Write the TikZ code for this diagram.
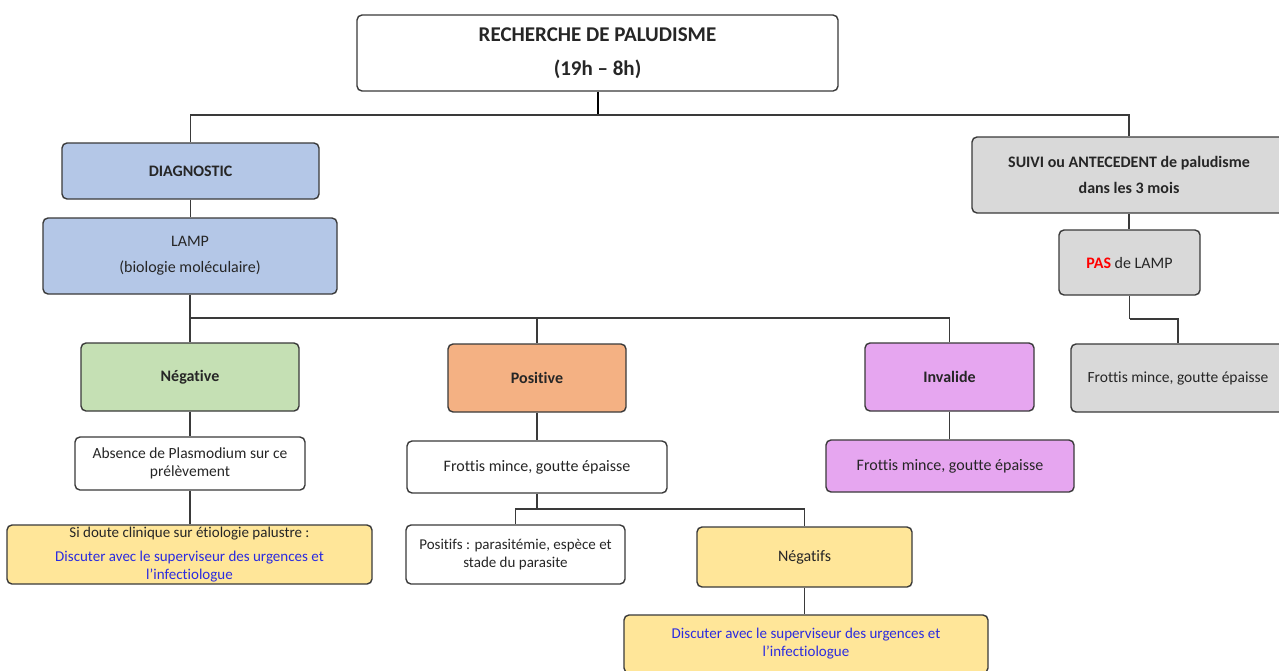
\documentclass[tikz,border=0pt]{standalone}
\usepackage{fontspec}
\setmainfont{Carlito}[Ligatures=NoCommon]
\definecolor{linec}{HTML}{3A3A3A}
\definecolor{txtc}{HTML}{262626}
\definecolor{fblue}{HTML}{B4C7E7}
\definecolor{fgreen}{HTML}{C5E0B4}
\definecolor{forange}{HTML}{F4B183}
\definecolor{fviolet}{HTML}{E6A6F0}
\definecolor{fyellow}{HTML}{FFE699}
\definecolor{fgray}{HTML}{D9D9D9}
\definecolor{bluetxt}{HTML}{2B2BE0}
\definecolor{redtxt}{HTML}{FF0000}
\begin{document}
\begin{tikzpicture}[x=1pt,y=-1pt,
  box/.style={draw=linec, line width=1.4pt, rounded corners=5pt, inner sep=0pt,
    align=center, text=txtc, font=\fontsize{16}{18}\selectfont},
  conn/.style={draw=linec, line width=1.5pt},
  wh/.style 2 args={minimum width=#1pt, minimum height=#2pt}]
\clip (0,0) rectangle (1279,670);
\fill[white] (0,0) rectangle (1279,670);

% nodes
\node[box, fill=white, wh={481}{76}, font=\fontsize{21}{34}\selectfont\bfseries] (top) at (597.5,53) {RECHERCHE DE PALUDISME\\(19h -- 8h)};
\node[box, fill=fblue, wh={257}{56}, font=\fontsize{16}{18}\selectfont\bfseries] (diag) at (190.5,171) {DIAGNOSTIC};
\node[box, fill=fblue, wh={294}{76}, font=\fontsize{16}{26}\selectfont] (lamp) at (190,256) {LAMP\\(biologie moléculaire)};
\node[box, fill=fgreen, wh={218}{68}, font=\fontsize{16}{18}\selectfont\bfseries] (neg) at (190,377) {Négative};
\node[box, fill=forange, wh={178}{68}, font=\fontsize{16}{18}\selectfont\bfseries] (pos) at (537,378) {Positive};
\node[box, fill=fviolet, wh={169}{68}, font=\fontsize{16}{18}\selectfont\bfseries] (inv) at (949.5,377) {Invalide};
\node[box, fill=white, wh={230}{53}, font=\fontsize{15.5}{18}\selectfont] (abs) at (190,463.5) {Absence de Plasmodium sur ce\\prélèvement};
\node[box, fill=fyellow, wh={365}{59}, font=\fontsize{15}{18}\selectfont] (sid) at (189.5,554.5) {Si doute clinique sur étiologie palustre :\\[6pt]\textcolor{bluetxt}{Discuter avec le superviseur des urgences et}\\\textcolor{bluetxt}{l’infectiologue}};
\node[box, fill=white, wh={260}{52}] (frP) at (537,467) {Frottis mince, goutte épaisse};
\node[box, fill=white, wh={219}{59}, font=\fontsize{15}{17.5}\selectfont] (posf) at (515.5,554.5) {Positifs : parasitémie, espèce et\\stade du parasite};
\node[box, fill=fyellow, wh={215}{60}] (negf) at (804.5,557) {Négatifs};
\node[box, fill=fyellow, wh={364}{58}, font=\fontsize{15}{18}\selectfont, text=bluetxt] (disc) at (806,644) {Discuter avec le superviseur des urgences et\\l’infectiologue};
\node[box, fill=fviolet, wh={248}{52}] (frI) at (950,466) {Frottis mince, goutte épaisse};
\node[box, fill=fgray, wh={314}{76}, font=\fontsize{16}{26}\selectfont\bfseries] (suivi) at (1129,175) {SUIVI ou ANTECEDENT de paludisme\\dans les 3 mois};
\node[box, fill=fgray, wh={141}{65}] (pas) at (1129.5,262.5) {\textcolor{redtxt}{\bfseries PAS} de LAMP};
\node[box, fill=fgray, wh={214}{68}, font=\fontsize{15.5}{18}\selectfont] (frG) at (1178,378) {Frottis mince, goutte épaisse};

% junctions
\coordinate (j1) at (597.5,115);
\coordinate (j2) at (190,318);
\coordinate (j3) at (537,509);
\coordinate (j4) at (1129.5,319);

% connectors
\draw[conn, line width=2pt, draw=black] (top.south) -- (j1);
\draw[conn] (j1) -| (diag.north);
\draw[conn] (j1) -| (suivi.north);
\draw[conn] (diag.south) -- (diag.south |- lamp.north);
\draw[conn] (lamp.south) -- (j2);
\draw[conn] (j2) -- (neg.north);
\draw[conn] (j2) -| (pos.north);
\draw[conn] (j2) -| (inv.north);
\draw[conn] (neg.south) -- (abs.north);
\draw[conn] (abs.south) -- (abs.south |- sid.north);
\draw[conn] (pos.south) -- (frP.north);
\draw[conn] (frP.south) -- (j3);
\draw[conn] (j3) -| (posf.north);
\draw[conn] (j3) -| (negf.north);
\draw[conn] (negf.south) -- (negf.south |- disc.north);
\draw[conn] (inv.south) -- (inv.south |- frI.north);
\draw[conn] (suivi.south) -- (suivi.south |- pas.north);
\draw[conn] (pas.south) -- (j4);
\draw[conn] (j4) -| (frG.north);
\end{tikzpicture}
\end{document}
